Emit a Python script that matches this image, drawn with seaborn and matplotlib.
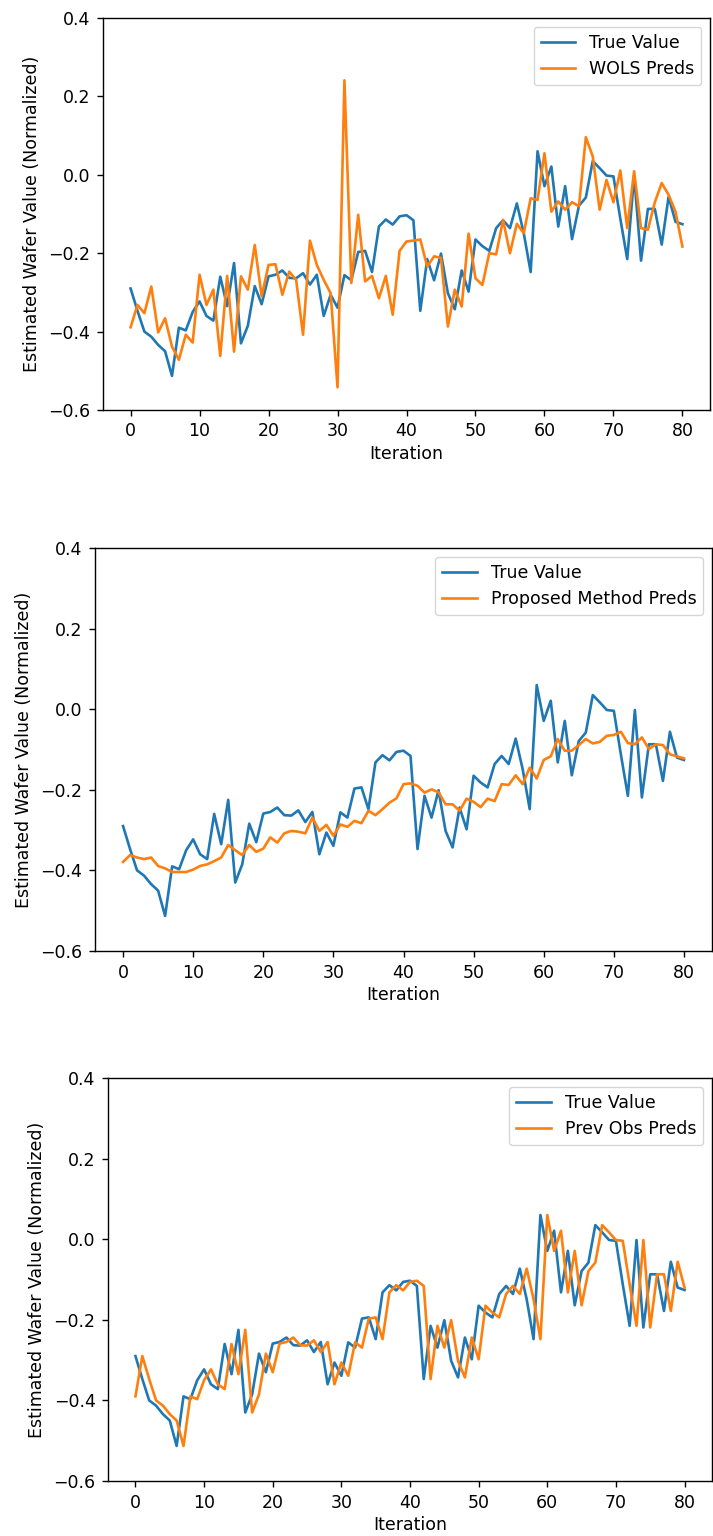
import numpy as np
import pandas as pd
import matplotlib
matplotlib.use("Agg")
import matplotlib.pyplot as plt
import seaborn as sns

iterations = list(range(81))

true_value = [
    -0.29, -0.347, -0.40, -0.413, -0.434, -0.45, -0.513, -0.39, -0.397, -0.35,
    -0.323, -0.36, -0.372, -0.26, -0.335, -0.225, -0.43, -0.385, -0.284, -0.33,
    -0.259, -0.255, -0.244, -0.263, -0.264, -0.251, -0.28, -0.255, -0.36, -0.306,
    -0.339, -0.256, -0.269, -0.197, -0.194, -0.248, -0.132, -0.114, -0.127, -0.106,
    -0.103, -0.116, -0.347, -0.215, -0.269, -0.201, -0.302, -0.343, -0.244, -0.298,
    -0.165, -0.182, -0.194, -0.136, -0.116, -0.136, -0.073, -0.149, -0.248, 0.06,
    -0.029, 0.021, -0.132, -0.029, -0.164, -0.079, -0.058, 0.035, 0.017, -0.002,
    -0.004, -0.112, -0.215, -0.002, -0.219, -0.087, -0.087, -0.178, -0.056, -0.12,
    -0.126,
]

wols_preds = [
    -0.389, -0.332, -0.353, -0.285, -0.402, -0.366, -0.438, -0.472, -0.408, -0.428,
    -0.255, -0.332, -0.293, -0.462, -0.258, -0.451, -0.259, -0.293, -0.179, -0.31,
    -0.23, -0.228, -0.306, -0.247, -0.268, -0.408, -0.168, -0.23, -0.268, -0.302,
    -0.542, 0.241, -0.276, -0.102, -0.272, -0.258, -0.315, -0.258, -0.357, -0.194,
    -0.17, -0.168, -0.165, -0.234, -0.208, -0.212, -0.387, -0.293, -0.336, -0.15,
    -0.264, -0.281, -0.2, -0.203, -0.115, -0.2, -0.125, -0.149, -0.06, -0.064,
    0.055, -0.094, -0.068, -0.089, -0.07, -0.08, 0.096, 0.047, -0.089, -0.013,
    -0.07, 0.011, -0.136, 0.009, -0.136, -0.14, -0.07, -0.021, -0.051, -0.094,
    -0.183,
]

proposed_preds = [
    -0.379, -0.362, -0.368, -0.372, -0.368, -0.389, -0.395, -0.404, -0.404, -0.404,
    -0.398, -0.389, -0.385, -0.377, -0.368, -0.337, -0.35, -0.362, -0.337, -0.354,
    -0.346, -0.318, -0.331, -0.308, -0.302, -0.304, -0.308, -0.269, -0.302, -0.287,
    -0.314, -0.286, -0.292, -0.277, -0.283, -0.252, -0.263, -0.248, -0.232, -0.221,
    -0.186, -0.184, -0.19, -0.207, -0.199, -0.206, -0.236, -0.236, -0.252, -0.222,
    -0.23, -0.243, -0.222, -0.228, -0.186, -0.188, -0.164, -0.186, -0.145, -0.172,
    -0.126, -0.117, -0.074, -0.103, -0.103, -0.089, -0.074, -0.085, -0.081, -0.066,
    -0.064, -0.056, -0.084, -0.087, -0.07, -0.099, -0.087, -0.089, -0.112, -0.117,
    -0.122,
]

prev_obs_preds = [
    -0.39, -0.29, -0.347, -0.40, -0.413, -0.434, -0.45, -0.513, -0.39, -0.397,
    -0.35, -0.323, -0.36, -0.372, -0.26, -0.335, -0.225, -0.43, -0.385, -0.284,
    -0.33, -0.259, -0.255, -0.244, -0.263, -0.264, -0.251, -0.28, -0.255, -0.36,
    -0.306, -0.339, -0.256, -0.269, -0.197, -0.194, -0.248, -0.132, -0.114, -0.127,
    -0.106, -0.103, -0.116, -0.347, -0.215, -0.269, -0.201, -0.302, -0.343, -0.244,
    -0.298, -0.165, -0.182, -0.194, -0.136, -0.116, -0.136, -0.073, -0.149, -0.248,
    0.06, -0.029, 0.021, -0.132, -0.029, -0.164, -0.079, -0.058, 0.035, 0.017,
    -0.002, -0.004, -0.112, -0.215, -0.002, -0.219, -0.087, -0.087, -0.178, -0.056,
    -0.12,
]

panel_labels = ["WOLS Preds", "Proposed Method Preds", "Prev Obs Preds"]
panel_preds = [wols_preds, proposed_preds, prev_obs_preds]
y_ticks = [-0.6, -0.4, -0.2, 0.0, 0.2, 0.4]
x_ticks = [0, 10, 20, 30, 40, 50, 60, 70, 80]

W, H = 713, 1536
fig = plt.figure(figsize=(W / 100, H / 100), dpi=100)

# pixel boxes: (left, top, right, bottom)
boxes = [(103, 18, 710, 410), (95, 548, 712, 951), (108, 1078, 712, 1481)]

blue, orange = "#1f77b4", "#ff7f0e"
fs = 12.5
lw = 1.9

for (l, t, r, b), lab, preds in zip(boxes, panel_labels, panel_preds):
    ax = fig.add_axes([l / W, 1 - b / H, (r - l) / W, (b - t) / H])
    sns.lineplot(x=iterations, y=true_value, ax=ax, color=blue, label="True Value", linewidth=lw)
    sns.lineplot(x=iterations, y=preds, ax=ax, color=orange, label=lab, linewidth=lw)
    ax.set_ylim(-0.6, 0.4)
    ax.set_yticks(y_ticks)
    ax.set_xticks(x_ticks)
    ax.set_xlabel("Iteration", fontsize=fs, labelpad=3)
    ax.set_ylabel("Estimated Wafer Value (Normalized)", fontsize=fs, labelpad=5)
    ax.tick_params(labelsize=fs, length=4.5, width=1.0, pad=4.5)
    for sp in ax.spines.values():
        sp.set_linewidth(1.0)
    ax.legend(loc="upper right", fontsize=fs)

fig.savefig("out.png", dpi=100)
